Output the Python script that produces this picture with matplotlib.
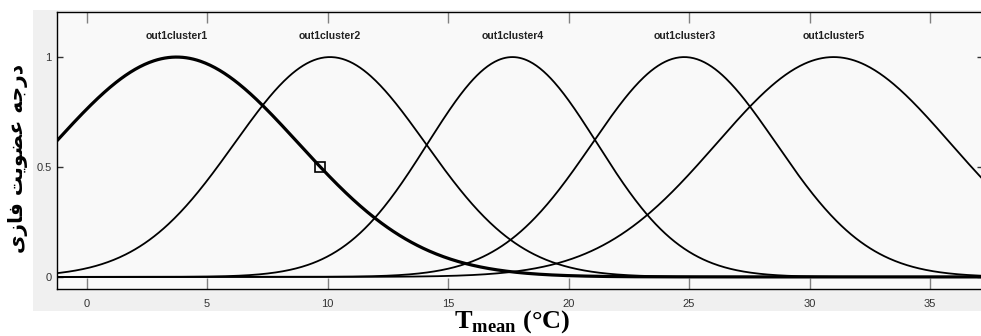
import numpy as np
import matplotlib
matplotlib.use("Agg")
import matplotlib.pyplot as plt
from matplotlib.patches import Rectangle

plt.rcParams['mathtext.fontset'] = 'custom'
plt.rcParams['mathtext.rm'] = 'Liberation Serif'
plt.rcParams['mathtext.bf'] = 'Liberation Serif:bold'

# membership functions (gaussmf): name, centre, sigma
mf_names = ['out1cluster1', 'out1cluster2', 'out1cluster4', 'out1cluster3', 'out1cluster5']
mf_center = [3.73, 10.1, 17.67, 24.8, 31.0]
mf_sigma = [5.07, 3.97, 3.52, 3.82, 4.86]
selected = 0          # highlighted curve (thick)
handle_x = [9.70]     # edit handle on the selected curve
handle_y = [0.5]

x_ticks = [0, 5, 10, 15, 20, 25, 30, 35]
y_ticks = [0, 0.5, 1]
y_ticklabels = ['0', '0.5', '1']

# y label in Persian, shaped by hand (matplotlib has no arabic shaping)
# logical: درجه عضویت فازی
ylab = ('\uFBFC\uFEAF\uFE8E\uFED3' + ' ' +
        '\uFE96\uFBFE\uFEEE\uFEC0\uFECB' + ' ' +
        '\uFEEA\uFE9F\uFEAD\uFEA9')

fig = plt.figure(figsize=(9.81, 3.36), dpi=100)
fig.patch.set_facecolor('white')
# grey panel behind the axes (matlab fuzzy editor)
fig.patches.append(Rectangle((33/981, 1-311/336), 1-33/981, 301/336,
                             transform=fig.transFigure, facecolor='#f0f0f0',
                             edgecolor='none', zorder=-5))

ax = fig.add_axes([57/981, 1-289/336, 926/981, 277/336])
ax.set_facecolor('#f9f9f9')

xs = np.linspace(-1.5, 38, 800)
for i in range(len(mf_names)):
    ys = np.exp(-(xs - mf_center[i])**2 / (2*mf_sigma[i]**2))
    lw = 2.3 if i == selected else 1.3
    ax.plot(xs, ys, color='black', lw=lw, solid_capstyle='butt')
    ax.text(mf_center[i], 1.095, mf_names[i], ha='center', va='center',
            fontsize=7.6, fontweight='bold', family='Liberation Sans',
            color='#222222')

ax.plot(handle_x, handle_y, 's', ms=6.5, mfc='none', mec='black', mew=1.2)

ax.set_xlim(-1.23, 37.2)
ax.set_ylim(-0.055, 1.205)
ax.set_xticks(x_ticks)
ax.set_yticks(y_ticks)
ax.set_yticklabels(y_ticklabels)
ax.tick_params(axis='x', direction='in', length=8, width=1, color='#808080',
               top=True, pad=7, labelsize=8, labelcolor='#333333')
ax.tick_params(axis='y', direction='in', length=4, width=1, color='#333333',
               right=True, pad=4, labelsize=8, labelcolor='#333333')
for lab in ax.get_xticklabels() + ax.get_yticklabels():
    lab.set_family('Liberation Sans')
for sp in ax.spines.values():
    sp.set_color('black')
    sp.set_linewidth(1)

fig.text(18/981, 1-158/336, ylab, rotation=90, ha='center', va='center',
         fontsize=14.5, fontweight='bold', family=['DejaVu Sans'])
fig.text(512/981, 1-322/336, r'$\mathbf{T}_{\mathbf{mean}}$ (°C)', ha='center',
         va='center', fontsize=19, fontweight='bold', family='Liberation Serif')

fig.savefig('out.png', dpi=100)
